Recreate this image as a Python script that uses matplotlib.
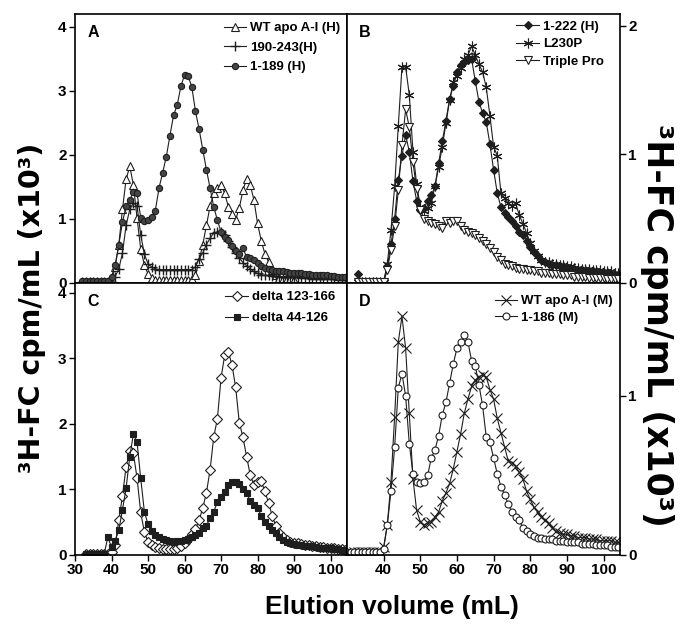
import numpy as np
import matplotlib
matplotlib.use('Agg')
import matplotlib.pyplot as plt

plt.rcParams['font.family'] = ['Liberation Sans', 'DejaVu Sans']
plt.rcParams['font.weight'] = 'bold'

# fraction volume (mL) of the first point of each trace, values in 10^3 cpm/mL
# panel A
a_start = 32
wt_h = [0.02, 0.02, 0.02, 0.02, 0.02, 0.02, 0.02, 0.02, 0.02,
        0.25, 0.6, 1.15, 1.62, 1.82, 1.53, 1.01, 0.53, 0.28, 0.14, 0.08, 0.05,
        0.04, 0.04, 0.04, 0.04, 0.04, 0.04, 0.04, 0.04, 0.04,
        0.06, 0.12, 0.35, 0.6, 0.9, 1.2, 1.4, 1.48, 1.53, 1.4, 1.19, 1.08, 0.99,
        1.17, 1.45, 1.62, 1.53, 1.3, 0.93, 0.66, 0.46, 0.33, 0.2, 0.12, 0.08,
        0.07, 0.06, 0.06, 0.05]
h190_243 = [0.02, 0.02, 0.02, 0.02, 0.02, 0.02, 0.02, 0.02, 0.02,
            0.1, 0.22, 0.47, 0.9, 1.15, 1.25, 1.2, 0.75, 0.45, 0.3, 0.25, 0.22,
            0.21, 0.21, 0.21, 0.21, 0.21, 0.21, 0.21, 0.21, 0.21, 0.21,
            0.25, 0.38, 0.47, 0.6, 0.7, 0.78, 0.8, 0.8, 0.75, 0.66, 0.56, 0.47,
            0.39, 0.32, 0.27, 0.22, 0.18, 0.15, 0.13,
            0.12, 0.12, 0.11, 0.11, 0.1, 0.1, 0.1, 0.09, 0.09, 0.09, 0.08, 0.08,
            0.08, 0.07, 0.07, 0.07, 0.06, 0.06, 0.06, 0.06, 0.05, 0.05, 0.05]
h1_189 = [0.03, 0.03, 0.03, 0.03, 0.03, 0.03, 0.03, 0.03,
          0.1, 0.28, 0.6, 0.95, 1.2, 1.3, 1.42, 1.4, 1.02, 0.97, 0.98, 1.03, 1.13,
          1.48, 1.72, 1.97, 2.3, 2.62, 2.78, 3.07, 3.25, 3.23, 3.06, 2.68, 2.4,
          2.08, 1.77, 1.48, 1.19, 0.98, 0.8, 0.72, 0.67, 0.57, 0.5, 0.45, 0.55,
          0.4, 0.39, 0.36, 0.31, 0.27, 0.24, 0.22,
          0.2, 0.19, 0.18, 0.18, 0.17, 0.16, 0.16, 0.15, 0.15, 0.14, 0.14, 0.13,
          0.13, 0.12, 0.12, 0.12, 0.11, 0.11, 0.1, 0.1, 0.1]

# panel B
b_start = 33
h1_222 = [0.07, 0.01, 0.01, 0.01, 0.01, 0.01, 0.01, 0.01,
          0.13, 0.3, 0.5, 0.8, 0.99, 1.15, 1.02, 0.79, 0.64, 0.57, 0.58, 0.64,
          0.68, 0.75, 0.93, 1.1, 1.26, 1.43, 1.53, 1.64, 1.69, 1.72, 1.73, 1.74,
          1.57, 1.41, 1.32, 1.25, 1.08, 0.88, 0.7, 0.59, 0.54, 0.51, 0.48, 0.44,
          0.4, 0.37, 0.33, 0.28, 0.24, 0.21, 0.18, 0.16,
          0.15, 0.14, 0.14, 0.13, 0.12, 0.12, 0.11, 0.11, 0.1, 0.1, 0.09, 0.09,
          0.09, 0.08, 0.08, 0.08, 0.07, 0.07, 0.06, 0.06]
l230p = [0.01, 0.01, 0.01, 0.01, 0.01, 0.01, 0.01, 0.01,
         0.15, 0.41, 0.75, 1.22, 1.68, 1.68, 1.46, 1.02, 0.77, 0.59, 0.56, 0.58,
         0.62, 0.75, 0.9, 1.06, 1.24, 1.42, 1.56, 1.61, 1.67, 1.74, 1.77, 1.84,
         1.77, 1.7, 1.64, 1.52, 1.3, 1.06, 0.99, 0.7, 0.66, 0.62, 0.6, 0.62,
         0.53, 0.46, 0.39, 0.31, 0.25, 0.21, 0.18,
         0.16, 0.16, 0.15, 0.15, 0.14, 0.14, 0.13, 0.13, 0.12, 0.12, 0.11, 0.11,
         0.11, 0.1, 0.1, 0.1, 0.09, 0.09, 0.09, 0.08, 0.08]
triple_pro = [0.01, 0.01, 0.01, 0.01, 0.01, 0.01, 0.01, 0.01,
              0.1, 0.26, 0.44, 0.72, 1.07, 1.35, 1.21, 0.94, 0.73, 0.57, 0.5,
              0.48, 0.47, 0.46, 0.44, 0.43, 0.48, 0.47, 0.48, 0.48, 0.44, 0.41,
              0.4, 0.39, 0.37, 0.35, 0.33, 0.3, 0.27, 0.24, 0.2, 0.18, 0.15,
              0.14, 0.13,
              0.12, 0.11, 0.11, 0.1, 0.1, 0.09, 0.09, 0.08, 0.08, 0.08, 0.07,
              0.07, 0.07, 0.06, 0.06, 0.06, 0.05, 0.05, 0.05, 0.05, 0.04, 0.04,
              0.04, 0.04, 0.04, 0.03, 0.03, 0.03, 0.03]

# panel C
c_start = 33
d123_166 = [0.02, 0.02, 0.02, 0.02, 0.02, 0.02, 0.02,
            0.05, 0.15, 0.53, 0.9, 1.35, 1.58, 1.55, 1.17, 0.65, 0.35, 0.2,
            0.15, 0.12, 0.1, 0.09, 0.09, 0.09, 0.09, 0.1, 0.13, 0.18, 0.25,
            0.32, 0.4, 0.53, 0.72, 0.95, 1.3, 1.8, 2.08, 2.7, 3.05, 3.1, 2.9,
            2.56, 2.02, 1.8, 1.5, 1.22, 1.07, 1.12, 1.13, 0.97, 0.8, 0.6, 0.44,
            0.33, 0.27, 0.23,
            0.2, 0.19, 0.18, 0.17, 0.16, 0.15, 0.14, 0.13, 0.12, 0.12, 0.11,
            0.1, 0.1, 0.09, 0.09, 0.08]
d44_126 = [0.02, 0.02, 0.02, 0.02, 0.02, 0.02,
           0.27, 0.12, 0.22, 0.38, 0.69, 1.02, 1.5, 1.85, 1.72, 1.17, 0.66,
           0.47, 0.37, 0.3, 0.28, 0.25, 0.23, 0.21, 0.2, 0.21, 0.22, 0.23, 0.25,
           0.28, 0.3, 0.33, 0.41, 0.45, 0.56, 0.66, 0.81, 0.89, 0.96, 1.07, 1.12,
           1.12, 1.08, 1.0, 0.94, 0.83, 0.76, 0.72, 0.6, 0.51, 0.44, 0.38, 0.33,
           0.28, 0.23, 0.2,
           0.18, 0.17, 0.16, 0.15, 0.14, 0.13, 0.13, 0.12, 0.11, 0.11, 0.1,
           0.1, 0.09, 0.09, 0.08, 0.08]

# panel D
d_start = 31
wt_m = [0.02, 0.02, 0.02, 0.02, 0.02, 0.02, 0.02, 0.02, 0.02,
        0.05, 0.19, 0.46, 0.87, 1.34, 1.5, 1.3, 0.89, 0.48, 0.28, 0.21, 0.19,
        0.2, 0.21, 0.24, 0.27, 0.34, 0.39, 0.45, 0.54, 0.65, 0.76, 0.89, 0.98,
        1.06, 1.1, 1.12, 1.13, 1.12, 1.04, 0.98, 0.86, 0.77, 0.68, 0.59, 0.58,
        0.56, 0.52, 0.48, 0.4, 0.35, 0.3, 0.27, 0.24, 0.22, 0.2, 0.17, 0.15,
        0.14,
        0.13, 0.13, 0.12, 0.12, 0.11, 0.11, 0.11, 0.1, 0.1, 0.1, 0.09, 0.09,
        0.09, 0.09, 0.08, 0.08]
m1_186 = [0.02, 0.02, 0.02, 0.02, 0.02, 0.02, 0.02, 0.02, 0.02,
          0.04, 0.19, 0.4, 0.68, 1.05, 1.14, 1.0, 0.7, 0.51, 0.46, 0.45, 0.46,
          0.5, 0.61, 0.66, 0.75, 0.88, 0.96, 1.08, 1.2, 1.3, 1.34, 1.38, 1.34,
          1.22, 1.19, 1.07, 0.94, 0.74, 0.71, 0.61, 0.51, 0.43, 0.38, 0.32,
          0.27, 0.24, 0.22, 0.17, 0.15, 0.13, 0.12,
          0.11, 0.11, 0.1, 0.1, 0.1, 0.09, 0.09, 0.09, 0.08, 0.08, 0.08, 0.08,
          0.07, 0.07, 0.07, 0.07, 0.06, 0.06, 0.06, 0.06, 0.05, 0.05, 0.05]

ink = '#1e1e1e'


def trace(ax, start, vals, marker, ms, face, label, mew=0.8):
    x = np.arange(start, start + len(vals))
    ax.plot(x, vals, color=ink, lw=0.8, marker=marker, ms=ms, mfc=face,
            mec=ink, mew=mew, label=label)


def style(ax, letter, ylim, yticks, right=False, xlabels=None):
    ax.set_xlim(30, 104.5)
    ax.set_ylim(*ylim)
    ax.set_yticks(yticks)
    ax.set_yticklabels([str(t) for t in yticks])
    if right:
        ax.yaxis.tick_right()
    if xlabels is None:
        ax.set_xticks(range(30, 101, 10))
        ax.tick_params(axis='x', labelbottom=False)
    else:
        ax.set_xticks(xlabels)
    ax.tick_params(direction='out', length=4, width=1, labelsize=11, pad=2)
    for s in ax.spines.values():
        s.set_linewidth(1.2)
    ax.text(0.045, 0.96, letter, transform=ax.transAxes, fontsize=11.5,
            fontweight='bold', va='top', ha='left')


fig = plt.figure(figsize=(6.8, 6.27), dpi=100)
W, H = 680.0, 627.0
axA = fig.add_axes([75 / W, 1 - 283 / H, 272 / W, 269 / H])
axB = fig.add_axes([347 / W, 1 - 283 / H, 273 / W, 269 / H])
axC = fig.add_axes([75 / W, 1 - 555 / H, 272 / W, 272 / H])
axD = fig.add_axes([347 / W, 1 - 555 / H, 273 / W, 272 / H])

trace(axA, a_start, wt_h, '^', 6, 'white', 'WT apo A-I (H)')
trace(axA, a_start, h190_243, '+', 7, ink, '190-243(H)', mew=1.0)
trace(axA, a_start, h1_189, 'o', 4.5, '#444444', '1-189 (H)')

trace(axB, b_start, h1_222, 'D', 3.8, ink, '1-222 (H)')
trace(axB, b_start, l230p, (6, 2, 0), 7, ink, 'L230P')
trace(axB, b_start, triple_pro, 'v', 6, 'white', 'Triple Pro')

trace(axC, c_start, d123_166, 'D', 5, 'white', 'delta 123-166')
trace(axC, c_start, d44_126, 's', 4.8, ink, 'delta 44-126')

trace(axD, d_start, wt_m, 'x', 7, ink, 'WT apo A-I (M)')
trace(axD, d_start, m1_186, 'o', 5, 'white', '1-186 (M)')

style(axA, 'A', (0, 4.2), [0, 1, 2, 3, 4])
style(axB, 'B', (0, 2.09), [0, 1, 2], right=True)
style(axC, 'C', (0, 4.15), [0, 1, 2, 3, 4], xlabels=list(range(30, 101, 10)))
style(axD, 'D', (0, 1.71), [0, 1], right=True, xlabels=list(range(40, 101, 10)))

leg = dict(loc='upper right', frameon=False, fontsize=9.5, handlelength=1.7,
           handletextpad=0.3, borderpad=0, borderaxespad=0, numpoints=1)
axA.legend(bbox_to_anchor=(0.975, 0.97), labelspacing=0.55, **leg)
axB.legend(bbox_to_anchor=(0.94, 0.975), labelspacing=0.4, **leg)
axC.legend(bbox_to_anchor=(0.956, 0.97), labelspacing=0.65, **leg)
axD.legend(bbox_to_anchor=(0.974, 0.955), labelspacing=0.3, **leg)

ylab = '\u00b3H-FC cpm/mL (x10\u00b3)'
fig.text(32 / W, 1 - 308 / H, ylab, rotation=90, ha='center', va='center',
         fontsize=20.5, family='DejaVu Sans', fontweight='bold')
fig.text(657 / W, 1 - 325 / H, ylab, rotation=270, ha='center', va='center',
         fontsize=25, family='DejaVu Sans', fontweight='bold')
fig.text(392 / W, 1 - 607 / H, 'Elution volume (mL)', ha='center', va='center',
         fontsize=19, fontweight='bold')

fig.savefig('out.png', dpi=100)
